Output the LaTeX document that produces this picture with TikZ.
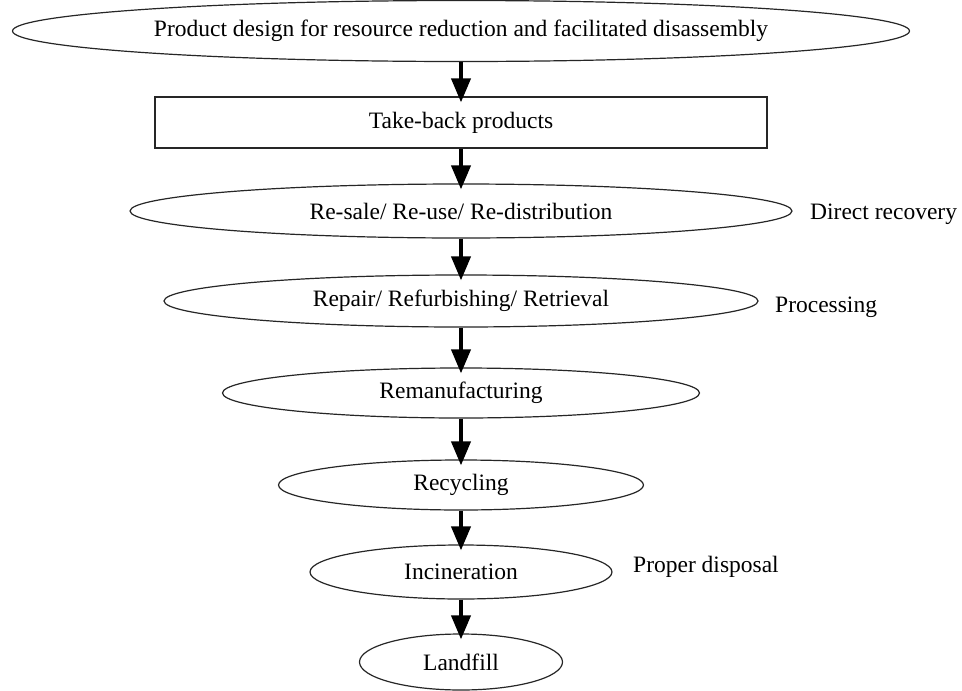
\documentclass[tikz,border=0pt]{standalone}
\usepackage{fontspec}
\setmainfont{Liberation Serif}
\usetikzlibrary{shapes.geometric,arrows.meta}
\begin{document}
\begin{tikzpicture}[x=1pt,y=-1pt,
  txt/.style={font=\fontsize{23.5}{23.5}\selectfont},
  ov/.style={ellipse,draw=black!85,line width=1.2pt,inner sep=0pt,txt},
  bx/.style={rectangle,draw=black!85,line width=1.2pt,inner sep=0pt,txt},
  lbl/.style={anchor=west,inner sep=0pt,txt},
  flow/.style={line width=4pt,-{Triangle[length=24pt,width=19pt]},shorten >=-6pt}
]
\useasboundingbox[fill=white] (0,0) rectangle (962,691);
\node[ov,minimum width=897pt,minimum height=61pt] (n1) at (461,31) {Product design for resource reduction and facilitated disassembly};
\node[bx,minimum width=612pt,minimum height=51pt] (n2) at (461,122.5) {Take-back products};
\node[ov,minimum width=662pt,minimum height=54pt] (n3) at (461,211) {Re-sale/ Re-use/ Re-distribution};
\node[ov,minimum width=594pt,minimum height=52pt] (n4) at (461,301) {Repair/ Refurbishing/ Retrieval};
\node[ov,minimum width=477pt,minimum height=50pt] (n5) at (461,393) {Remanufacturing};
\node[ov,minimum width=365pt,minimum height=50pt] (n6) at (461,485) {Recycling};
\node[ov,minimum width=302pt,minimum height=54pt] (n7) at (461,572) {Incineration};
\node[ov,minimum width=203pt,minimum height=56pt] (n8) at (461,662) {Landfill};
\node[lbl] (l1) at (810,214) {Direct recovery};
\node[lbl] (l2) at (775,307) {Processing};
\node[lbl] (l3) at (633,567) {Proper disposal};
\draw[flow] (n1.south) -- (n2.north);
\draw[flow] (n2.south) -- (n3.north);
\draw[flow] (n3.south) -- (n4.north);
\draw[flow] (n4.south) -- (n5.north);
\draw[flow] (n5.south) -- (n6.north);
\draw[flow] (n6.south) -- (n7.north);
\draw[flow] (n7.south) -- (n8.north);
\end{tikzpicture}
\end{document}
